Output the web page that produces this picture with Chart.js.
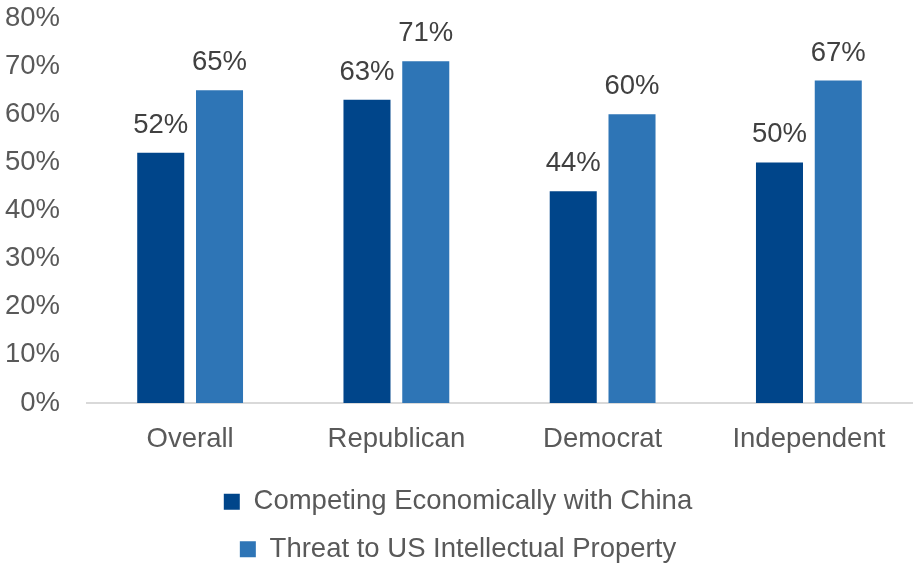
<!DOCTYPE html>
<html>
<head>
<meta charset="utf-8">
<script src="https://cdn.jsdelivr.net/npm/chart.js@4"></script>
<style>
  body { margin: 0; background: #fff; }
  #box { width: 914px; height: 563px; }
</style>
</head>
<body>
<div id="box"><canvas id="kinaChart"></canvas></div>
<script>
// Data
const kategorier = ["Overall", "Republican", "Democrat", "Independent"];
const okonomiVerdier = [52, 63, 44, 50];
const ipVerdier = [65, 71, 60, 67];
const serieNavn = ["Competing Economically with China", "Threat to US Intellectual Property"];
const yTicks = [0, 10, 20, 30, 40, 50, 60, 70, 80];

const fontFamilie = "Arial, 'Liberation Sans', sans-serif";
const fontStr = 27.5;
Chart.defaults.font.family = fontFamilie;

// Tegner prosent over hver stolpe
const verdiEtiketter = {
  id: "verdiEtiketter",
  afterDatasetsDraw(chart) {
    const ctx = chart.ctx;
    ctx.save();
    ctx.font = fontStr + "px " + fontFamilie;
    ctx.fillStyle = "#404040";
    ctx.textAlign = "center";
    ctx.textBaseline = "alphabetic";
    chart.data.datasets.forEach((ds, i) => {
      chart.getDatasetMeta(i).data.forEach((bar, j) => {
        ctx.fillText(ds.data[j] + "%", bar.x, bar.y - 20);
      });
    });
    ctx.restore();
  }
};

new Chart("kinaChart", {
  type: "bar",
  data: {
    labels: kategorier,
    datasets: [
      { label: serieNavn[0], data: okonomiVerdier, backgroundColor: "#00458A" },
      { label: serieNavn[1], data: ipVerdier, backgroundColor: "#2E75B6" }
    ]
  },
  options: {
    responsive: true,
    maintainAspectRatio: false,
    animation: false,
    categoryPercentage: 0.57,
    barPercentage: 0.8,
    layout: { padding: { top: 0, right: 2, left: 4, bottom: -10 } },
    plugins: {
      tooltip: { enabled: false },
      legend: {
        position: "bottom",
        labels: {
          color: "#595959",
          font: { size: fontStr },
          boxWidth: 16,
          boxHeight: 16,
          padding: 20
        }
      }
    },
    scales: {
      x: {
        grid: { display: false },
        border: { color: "#d9d9d9", width: 2 },
        ticks: { color: "#595959", font: { size: fontStr }, padding: 12 }
      },
      y: {
        min: 0,
        max: 80,
        afterBuildTicks: (axis) => { axis.ticks = yTicks.map(v => ({ value: v })); },
        afterFit: (axis) => {
          axis.width = 83;
          axis.paddingTop = 18;
        },
        grid: { display: false, drawTicks: false },
        border: { display: false },
        ticks: {
          color: "#595959",
          font: { size: fontStr },
          padding: 27,
          callback: (v) => v + "%"
        }
      }
    }
  },
  plugins: [verdiEtiketter]
});
</script>
</body>
</html>
